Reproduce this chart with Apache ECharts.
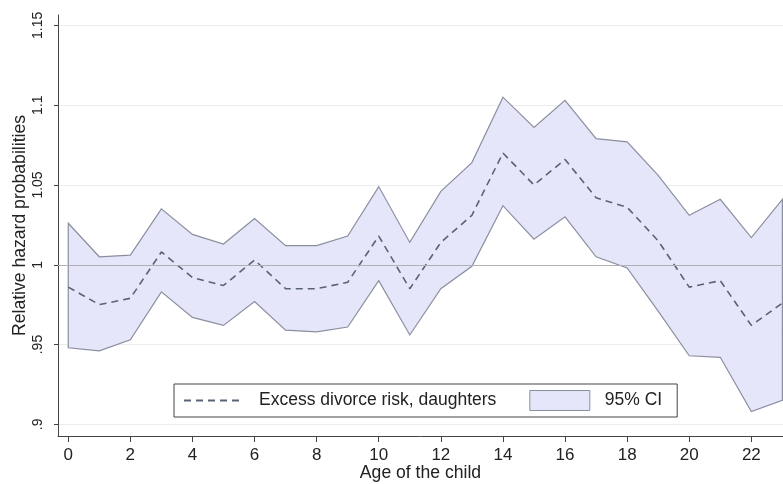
<!DOCTYPE html>
<html>
<head>
<meta charset="utf-8">
<script src="https://cdn.jsdelivr.net/npm/echarts@6/dist/echarts.min.js"></script>
<style>
  html, body { margin: 0; padding: 0; background: #fff; }
  #chart { width: 783px; height: 484px; }
</style>
</head>
<body>
<div id="chart"></div>
<script>
// age of the child (years)
var ages = [0,1,2,3,4,5,6,7,8,9,10,11,12,13,14,15,16,17,18,19,20,21,22,23];
// excess divorce risk, daughters (point estimate)
var estimate = [0.986,0.975,0.979,1.008,0.992,0.987,1.003,0.985,0.985,0.989,1.018,0.985,
                1.014,1.031,1.070,1.050,1.066,1.042,1.036,1.015,0.986,0.990,0.962,0.976];
// 95% CI bounds
var upper = [1.026,1.005,1.006,1.035,1.019,1.013,1.029,1.012,1.012,1.018,1.049,1.014,
             1.046,1.064,1.105,1.086,1.103,1.079,1.077,1.056,1.031,1.041,1.017,1.041];
var lower = [0.948,0.946,0.953,0.983,0.967,0.962,0.977,0.959,0.958,0.961,0.990,0.956,
             0.985,0.999,1.037,1.016,1.030,1.005,0.998,0.971,0.943,0.942,0.908,0.915];
// tick labels
var xTicks = [0,2,4,6,8,10,12,14,16,18,20,22];
var yTicks = [0.9,0.95,1,1.05,1.1,1.15];

var chart = echarts.init(document.getElementById('chart'));
var font = 'Liberation Sans, Arial, sans-serif';

// band polygon: upper edge left->right then lower edge right->left
function renderBand(params, api) {
  if (params.dataIndex !== 0) return;
  var pts = [];
  for (var i = 0; i < ages.length; i++) pts.push(api.coord([ages[i], upper[i]]));
  for (var j = ages.length - 1; j >= 0; j--) pts.push(api.coord([ages[j], lower[j]]));
  return {
    type: 'polygon',
    shape: { points: pts },
    style: { fill: '#e6e6fa', stroke: '#8a8f9f', lineWidth: 1.2 }
  };
}

var option = {
  backgroundColor: '#ffffff',
  animation: false,
  grid: { left: 58, right: 0, top: 15, bottom: 48, containLabel: false, outerBoundsMode: 'none' },
  xAxis: {
    type: 'value',
    min: -0.33,
    max: 23.02,
    name: 'Age of the child',
    nameLocation: 'middle',
    nameGap: 28,
    nameMoveOverlap: false,
    nameTextStyle: { fontFamily: font, fontSize: 17.6, color: '#222' },
    axisLine: { show: true, onZero: false, lineStyle: { color: '#444', width: 1 } },
    axisTick: { show: true, length: 6, customValues: xTicks, lineStyle: { color: '#444' } },
    axisLabel: { customValues: xTicks, margin: 11, fontFamily: font, fontSize: 17, color: '#222' },
    splitLine: { show: false }
  },
  yAxis: {
    type: 'value',
    min: 0.8927,
    max: 1.1565,
    name: 'Relative hazard probabilities',
    nameLocation: 'middle',
    nameGap: 29,
    nameMoveOverlap: false,
    nameRotate: 90,
    nameTextStyle: { fontFamily: font, fontSize: 17.6, color: '#222' },
    axisLine: { show: true, onZero: false, lineStyle: { color: '#444', width: 1 } },
    axisTick: { show: true, length: 4, customValues: yTicks, lineStyle: { color: '#444' } },
    axisLabel: {
      customValues: yTicks,
      rotate: 90,
      margin: 13,
      fontFamily: font, fontSize: 14, color: '#222',
      formatter: function (v) {
        var s = String(Math.round(v * 100) / 100);
        return s.indexOf('0.') === 0 ? s.slice(1) : s;
      }
    },
    splitLine: { show: true, lineStyle: { color: '#ececec', width: 1 } }
  },
  legend: {
    left: 174,
    top: 384,
    orient: 'horizontal',
    backgroundColor: '#fff',
    borderColor: '#444',
    borderWidth: 1,
    padding: [6, 15, 6, 9],
    itemWidth: 60,
    itemHeight: 20,
    itemGap: 33,
    textStyle: { fontFamily: font, fontSize: 17.5, color: '#222', padding: [0, 0, 0, 10] },
    data: [
      { name: 'Excess divorce risk, daughters', itemStyle: { opacity: 0 } },
      { name: '95% CI', icon: 'rect', itemStyle: { color: '#e6e6fa', borderColor: '#8a8f9f', borderWidth: 1 } }
    ]
  },
  series: [
    {
      name: '95% CI',
      type: 'custom',
      z: 2,
      renderItem: renderBand,
      itemStyle: { color: '#e6e6fa', borderColor: '#8a8f9f', borderWidth: 1 },
      data: ages.map(function (a, i) { return [a, lower[i], upper[i]]; }),
      encode: { x: 0, y: [1, 2] },
      silent: true
    },
    {
      name: 'Excess divorce risk, daughters',
      type: 'line',
      z: 4,
      symbol: 'none',
      lineStyle: { color: '#5a6275', width: 1.6, type: [7, 5] },
      itemStyle: { color: '#5a6275' },
      data: ages.map(function (a, i) { return [a, estimate[i]]; }),
      markLine: {
        silent: true,
        symbol: 'none',
        label: { show: false },
        lineStyle: { color: '#b0b0b8', type: 'solid', width: 1 },
        data: [{ yAxis: 1 }]
      }
    }
  ]
};

chart.setOption(option);
</script>
</body>
</html>
